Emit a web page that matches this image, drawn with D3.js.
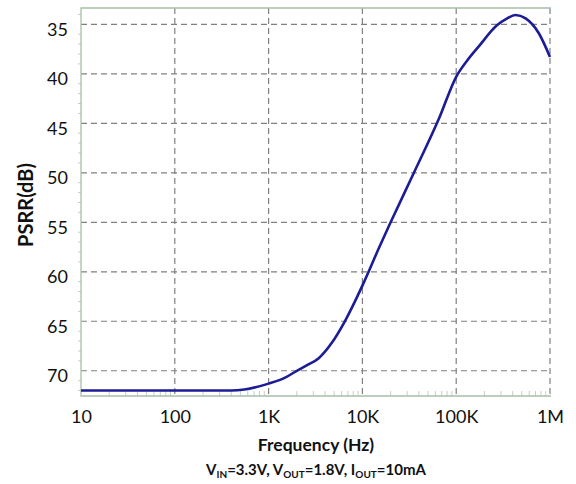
<html>
<head>
    <style>
        body { margin: 0; background: white; }
        text { font-family: Lato, 'Open Sans', sans-serif; fill: #111; }
        .grid line { stroke: #808080; stroke-dasharray: 6,4; stroke-width: 1.2; }
        .frame { stroke: #a9bfa9; stroke-width: 1.3; fill: none; }
        .minor { stroke: #c2d2c2; stroke-width: 1; }
        .pathLine { fill: none; stroke: #1c1c96; stroke-width: 2.6; }
    </style>
</head>
<body>
    <svg id="container" width="576" height="484"></svg>
</body>
<script src="https://cdn.jsdelivr.net/npm/d3@7"></script>
<script>
    // data
    let freq = [10, 100, 400, 550, 1000, 1500, 2000, 2600, 3400, 4700, 6500, 10000,
        15000, 20000, 35000, 65000, 100000, 130000, 175000,
        272000, 350000, 427000, 550000, 760000, 1000000];
    let psrr = [72, 72, 72, 71.9, 71.3, 70.7, 70.0, 69.4, 68.75, 67.2, 65.0, 61.4,
        57.6, 55.0, 50.1, 44.6, 40.3, 38.7, 37.2,
        35.1, 34.4, 34.05, 34.4, 35.9, 38.3];
    let xTicks = [10, 100, 1000, 10000, 100000, 1000000];
    let xLabels = ["10", "100", "1K", "10K", "100K", "1M"];
    let yTicks = [35, 40, 45, 50, 55, 60, 65, 70];

    let svg = d3.select("#container");
    let plotLeft = 81, plotRight = 550, plotTop = 8, plotBottom = 396;

    let xScale = d3.scaleLog()
        .domain([10, 1000000])
        .range([plotLeft, plotRight]);

    let yScale = d3.scaleLinear()
        .domain([33.35, 72.55])
        .range([plotTop, plotBottom]);

    // grid
    let grid = svg.append("g").attr("class", "grid");
    grid.selectAll(".hg").data(yTicks).enter().append("line")
        .attr("x1", plotLeft).attr("x2", plotRight)
        .attr("y1", d => yScale(d)).attr("y2", d => yScale(d));
    grid.selectAll(".vg").data(xTicks.slice(1)).enter().append("line")
        .attr("x1", d => xScale(d)).attr("x2", d => xScale(d))
        .attr("y1", plotTop).attr("y2", plotBottom);

    // minor ticks
    let minorX = [];
    xTicks.slice(0, -1).forEach(t => { for (let k = 2; k < 10; k++) minorX.push(t * k); });
    svg.selectAll(".mx").data(minorX).enter().append("line")
        .attr("class", "minor")
        .attr("x1", d => xScale(d)).attr("x2", d => xScale(d))
        .attr("y1", plotBottom).attr("y2", plotBottom - 5);
    let minorY = d3.range(34, 73, 1).filter(d => d % 5 != 0);
    svg.selectAll(".my").data(minorY).enter().append("line")
        .attr("class", "minor")
        .attr("x1", plotLeft - 3).attr("x2", plotLeft)
        .attr("y1", d => yScale(d)).attr("y2", d => yScale(d));

    // frame: left, top, bottom
    svg.append("path").attr("class", "frame")
        .attr("d", `M${plotRight + 1},${plotTop}H${plotLeft}V${plotBottom}H${plotRight + 1}`);

    // axes labels
    let yAxis = d3.axisLeft(yScale).tickValues(yTicks).tickSize(0).tickPadding(13);
    let yg = svg.append("g").attr("transform", `translate(${plotLeft},0)`).call(yAxis);
    yg.select(".domain").remove();
    yg.selectAll("text").attr("font-size", 18).attr("dy", "0.6em")
        .style("font-family", "Lato, 'Open Sans', sans-serif").attr("fill", "#111");

    let xAxis = d3.axisBottom(xScale).tickValues(xTicks)
        .tickFormat((d, i) => xLabels[i]).tickSize(0).tickPadding(14);
    let xg = svg.append("g").attr("transform", `translate(0,${plotBottom})`).call(xAxis);
    xg.select(".domain").remove();
    xg.selectAll("text").attr("font-size", 18)
        .style("font-family", "Lato, 'Open Sans', sans-serif").attr("fill", "#111");

    // line
    let valueLine = d3.line()
        .x((d, i) => xScale(freq[i]))
        .y(d => yScale(d))
        .curve(d3.curveMonotoneX);
    svg.append("path")
        .datum(psrr)
        .attr("d", valueLine)
        .attr("class", "pathLine");

    // titles
    svg.append("text")
        .attr("transform", "translate(33,205) rotate(-90)")
        .attr("text-anchor", "middle")
        .attr("font-size", 20).attr("font-weight", "bold")
        .text("PSRR(dB)");

    svg.append("text")
        .attr("x", 316).attr("y", 451)
        .attr("text-anchor", "middle")
        .attr("font-size", 17.5).attr("font-weight", "bold")
        .text("Frequency (Hz)");

    let sub = svg.append("text")
        .attr("x", 316).attr("y", 475)
        .attr("text-anchor", "middle")
        .attr("font-size", 15).attr("font-weight", "bold");
    let parts = [["V", ""], ["IN", "s"], ["=3.3V, V", ""], ["OUT", "s"], ["=1.8V, I", ""], ["OUT", "s"], ["=10mA", ""]];
    parts.forEach((p, i) => {
        let ts = sub.append("tspan").text(p[0]);
        if (p[1] == "s") ts.attr("font-size", 10).attr("dy", 3);
        else if (i > 0) ts.attr("dy", -3);
    });
</script>
</html>
